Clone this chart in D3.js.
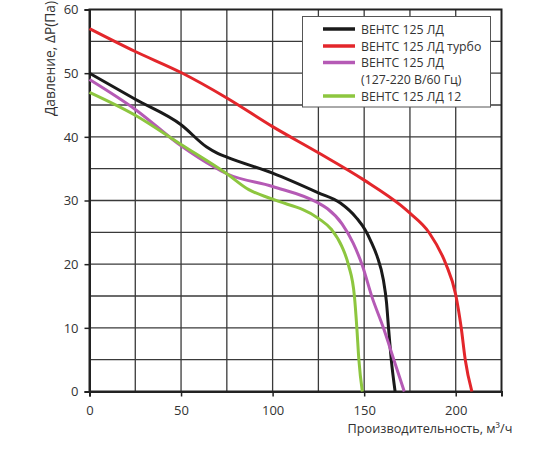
<!DOCTYPE html>
<html>
<head>
<meta charset="utf-8">
<script src="https://cdn.jsdelivr.net/npm/d3@7"></script>
<style>
	body { margin: 0; background: #fff; }
	svg text { font-family: "Open Sans", sans-serif; fill: #333; }
</style>
</head>
<body>
<svg id="chart" width="550" height="450"></svg>
<script>
// curve readings, flow (m3/h) vs pressure (Pa)
const blackX = [0, 25, 50, 64, 70, 75, 100, 125, 137, 146, 150.5, 154, 157, 160.5, 162.2, 163.3, 164.8, 166.9]
const blackY = [50, 45.9, 41.9, 38.4, 37.4, 36.8, 34.3, 31.2, 29.6, 27.2, 25.4, 23.4, 21.3, 17.5, 14, 10, 5, 0]

const redX = [0, 25, 50, 75, 100, 125, 150, 169.7, 175, 185.6, 194.5, 200, 203, 205.2, 208.8]
const redY = [57, 53.4, 50.1, 46.1, 41.6, 37.5, 33.2, 29.3, 28, 24.9, 20.1, 15.2, 10, 5, 0]

const purpleX = [0, 25, 50, 67.8, 75, 100, 125, 130, 138, 144, 149, 154.2, 160.5, 166.2, 171.9]
const purpleY = [49, 44.3, 38.6, 35.3, 34.2, 32.2, 29.6, 28.7, 26.3, 23.3, 19.8, 14.9, 10, 5, 0]

const greenX = [0, 25, 50, 75, 87, 100, 125, 132.3, 137.8, 141.4, 144.7, 146, 147.1, 149]
const greenY = [47, 43.4, 38.8, 34.2, 31.7, 30.2, 27.2, 25.4, 22.8, 19.9, 14.9, 10, 5, 0]

const seriesNames = ['ВЕНТС 125 ЛД', 'ВЕНТС 125 ЛД турбо', 'ВЕНТС 125 ЛД\n(127-220 В/60 Гц)', 'ВЕНТС 125 ЛД 12']
const seriesColours = ['#1a1a1a', '#e3262b', '#b55ab5', '#8dc63f']

const xTicks = [0, 50, 100, 150, 200]
const yTicks = [0, 10, 20, 30, 40, 50, 60]
const xGrid = [25, 50, 75, 100, 125, 150, 175, 200]
const yGrid = [5, 10, 15, 20, 25, 30, 35, 40, 45, 50, 55]

const series = [
	{ xs: blackX, ys: blackY },
	{ xs: redX, ys: redY },
	{ xs: purpleX, ys: purpleY },
	{ xs: greenX, ys: greenY }
].map((s, i) => ({ name: seriesNames[i], colour: seriesColours[i], points: s.xs.map((x, j) => [x, s.ys[j]]) }))

const plotLeft = 89.5, plotRight = 501.5, plotTop = 9.5, plotBottom = 391.5

const svg = d3.select('#chart')

const xScale = d3.scaleLinear().domain([0, 225]).range([plotLeft, plotRight])
const yScale = d3.scaleLinear().domain([0, 60]).range([plotBottom, plotTop])

// grid
const grid = svg.append('g').attr('stroke', '#3a3a3a').attr('stroke-width', 1.3)

grid.selectAll('.gx')
	.data(xGrid)
	.enter()
	.append('line')
	.attr('x1', d => xScale(d))
	.attr('x2', d => xScale(d))
	.attr('y1', plotTop)
	.attr('y2', plotBottom)

grid.selectAll('.gy')
	.data(yGrid)
	.enter()
	.append('line')
	.attr('x1', plotLeft)
	.attr('x2', plotRight)
	.attr('y1', d => yScale(d))
	.attr('y2', d => yScale(d))

// frame
svg.append('rect')
	.attr('x', plotLeft)
	.attr('y', plotTop)
	.attr('width', plotRight - plotLeft)
	.attr('height', plotBottom - plotTop)
	.attr('fill', 'none')
	.attr('stroke', '#222')
	.attr('stroke-width', 2)

// axes
const xAxis = svg.append('g')
	.attr('transform', `translate(0, ${plotBottom})`)
	.call(d3.axisBottom(xScale).tickValues(xTicks).tickSize(5).tickPadding(9))

const yAxis = svg.append('g')
	.attr('transform', `translate(${plotLeft}, 0)`)
	.call(d3.axisLeft(yScale).tickValues(yTicks).tickSize(5).tickPadding(6))

;[xAxis, yAxis].forEach(ax => {
	ax.select('.domain').attr('stroke', '#222').attr('stroke-width', 2)
	ax.selectAll('.tick line').attr('stroke', '#222').attr('stroke-width', 1.5)
	ax.selectAll('.tick text').style('font-size', '13px').attr('fill', '#333')
})

// curves
const line = d3.line()
	.x(d => xScale(d[0]))
	.y(d => yScale(d[1]))
	.curve(d3.curveMonotoneX)

svg.append('g')
	.selectAll('path')
	.data(series)
	.enter()
	.append('path')
	.attr('d', d => line(d.points))
	.attr('fill', 'none')
	.attr('stroke', d => d.colour)
	.attr('stroke-width', 3)
	.attr('stroke-linejoin', 'round')

// legend
const legend = svg.append('g')

legend.append('rect')
	.attr('x', 302.5)
	.attr('y', 16.5)
	.attr('width', 188)
	.attr('height', 90.5)
	.attr('fill', '#fff')
	.attr('stroke', '#555')
	.attr('stroke-width', 1)

const rowY = [29, 46, 62.5, 96]

const rows = legend.selectAll('.row')
	.data(series)
	.enter()
	.append('g')
	.attr('transform', (d, i) => `translate(0, ${rowY[i]})`)

rows.append('line')
	.attr('x1', 323)
	.attr('x2', 355)
	.attr('stroke', d => d.colour)
	.attr('stroke-width', 3.5)

rows.append('text')
	.attr('x', 361)
	.attr('y', 4.5)
	.style('font-size', '12.3px')
	.selectAll('tspan')
	.data(d => d.name.split('\n'))
	.enter()
	.append('tspan')
	.attr('x', 361)
	.attr('dy', (d, i) => i * 16.8)
	.text(d => d)

// axis titles
svg.append('text')
	.attr('x', 430)
	.attr('y', 433)
	.attr('text-anchor', 'middle')
	.style('font-size', '12.7px')
	.text('Производительность, м³/ч')

svg.append('text')
	.attr('transform', 'translate(55, 58.5) rotate(-90)')
	.attr('text-anchor', 'middle')
	.style('font-size', '13.8px')
	.text('Давление, ΔP(Па)')
</script>
</body>
</html>
